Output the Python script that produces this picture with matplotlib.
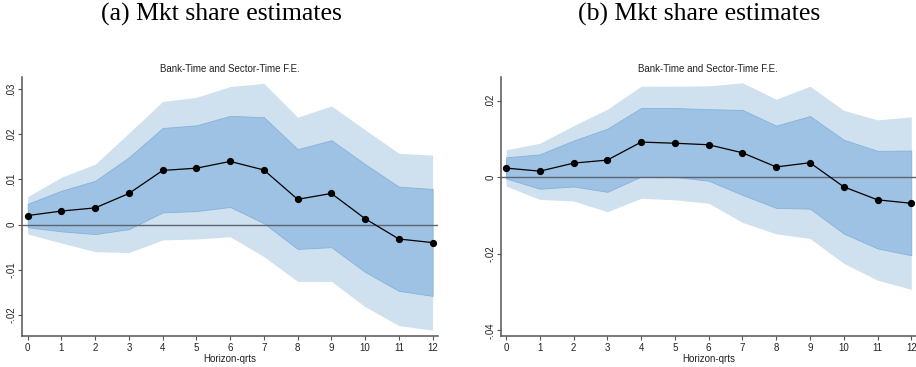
import matplotlib
matplotlib.use("Agg")
import matplotlib.pyplot as plt
from matplotlib.ticker import FuncFormatter

horizon = list(range(13))

# Panel (a)
a_coef = [0.0020, 0.0030, 0.0037, 0.0069, 0.0120, 0.0125, 0.0140, 0.0121, 0.0056, 0.0069, 0.0013, -0.0032, -0.0040]
a_in_hi = [0.0046, 0.0075, 0.0097, 0.0149, 0.0214, 0.0220, 0.0241, 0.0238, 0.0167, 0.0187, 0.0134, 0.0084, 0.0079]
a_in_lo = [-0.0006, -0.0015, -0.0021, -0.0010, 0.0027, 0.0030, 0.0039, 0.0003, -0.0054, -0.0050, -0.0105, -0.0147, -0.0158]
a_out_hi = [0.0062, 0.0105, 0.0134, 0.0203, 0.0273, 0.0282, 0.0306, 0.0313, 0.0238, 0.0263, 0.0210, 0.0158, 0.0154]
a_out_lo = [-0.0021, -0.0041, -0.0060, -0.0062, -0.0034, -0.0032, -0.0027, -0.0071, -0.0126, -0.0126, -0.0182, -0.0224, -0.0234]

# Panel (b)
b_coef = [0.0024, 0.0016, 0.0037, 0.0045, 0.0092, 0.0089, 0.0085, 0.0064, 0.0027, 0.0038, -0.0025, -0.0059, -0.0068]
b_in_hi = [0.0052, 0.0060, 0.0096, 0.0127, 0.0181, 0.0181, 0.0178, 0.0176, 0.0135, 0.0160, 0.0098, 0.0069, 0.0070]
b_in_lo = [-0.0003, -0.0030, -0.0024, -0.0038, 0.0002, 0.0001, -0.0009, -0.0046, -0.0080, -0.0082, -0.0147, -0.0186, -0.0204]
b_out_hi = [0.0072, 0.0089, 0.0135, 0.0178, 0.0238, 0.0238, 0.0239, 0.0247, 0.0204, 0.0238, 0.0175, 0.0150, 0.0158]
b_out_lo = [-0.0023, -0.0058, -0.0062, -0.0090, -0.0055, -0.0059, -0.0068, -0.0118, -0.0148, -0.0160, -0.0225, -0.0269, -0.0293]

a_yticks = [-0.02, -0.01, 0.0, 0.01, 0.02, 0.03]
b_yticks = [-0.04, -0.02, 0.0, 0.02]

panel_titles = ["(a) Mkt share estimates", "(b) Mkt share estimates"]
subtitle = "Bank-Time and Sector-Time F.E."
xlabel = "Horizon-qrts"

OUTER = "#cfe0ef"
INNER = "#9ec2e3"
INNER_EDGE = "#86b2db"
AXCOL = "#555555"


def fmt(v, pos):
    if abs(v) < 1e-12:
        return "0"
    s = f"{v:.2f}"
    s = s.replace("0.", ".")
    return s


fig = plt.figure(figsize=(9.16, 3.67), dpi=100)
plt.rcParams["font.family"] = ["Liberation Sans", "DejaVu Sans"]

specs = [
    dict(rect=[22 / 916, 0.0845, 416 / 916, 0.7055], coef=a_coef, ih=a_in_hi, il=a_in_lo,
         oh=a_out_hi, ol=a_out_lo, ylim=(-0.0247, 0.0327), yt=a_yticks, xlim=(-0.17, 12.16), tx=221),
    dict(rect=[500.7 / 916, 0.0845, 415.3 / 916, 0.7055], coef=b_coef, ih=b_in_hi, il=b_in_lo,
         oh=b_out_hi, ol=b_out_lo, ylim=(-0.0415, 0.0262), yt=b_yticks, xlim=(-0.16, 12.14), tx=699),
]

for i, s in enumerate(specs):
    ax = fig.add_axes(s["rect"])
    ax.fill_between(horizon, s["ol"], s["oh"], color=OUTER, lw=0, zorder=1)
    ax.fill_between(horizon, s["il"], s["ih"], facecolor=INNER, edgecolor=INNER_EDGE, lw=0.6, zorder=2)
    ax.axhline(0, color="#5b6470", lw=1.0, zorder=3)
    ax.plot(horizon, s["coef"], color="black", lw=0.9, marker="o", ms=4.2, zorder=4, clip_on=False)
    ax.set_xlim(*s["xlim"])
    ax.set_ylim(*s["ylim"])
    ax.set_xticks(horizon)
    ax.set_yticks(s["yt"])
    ax.yaxis.set_major_formatter(FuncFormatter(fmt))
    for lab in ax.get_yticklabels():
        lab.set_rotation(90)
        lab.set_va("center")
    ax.tick_params(axis="both", labelsize=7, length=3, width=0.8, color=AXCOL, pad=2, labelcolor="#222222")
    ax.tick_params(axis="y", pad=1)
    for side in ["top", "right"]:
        ax.spines[side].set_visible(False)
    for side in ["left", "bottom"]:
        ax.spines[side].set_color(AXCOL)
        ax.spines[side].set_linewidth(1.1)
    ax.set_title(subtitle, fontsize=7, pad=4, color="#222222")
    ax.set_xlabel(xlabel, fontsize=7, labelpad=1, color="#222222")
    fig.text(s["tx"] / 916, 1 - 14 / 367, panel_titles[i], ha="center", va="center",
             fontsize=18.5, family=["Liberation Serif", "DejaVu Serif"])

fig.savefig("out.png", dpi=100)
